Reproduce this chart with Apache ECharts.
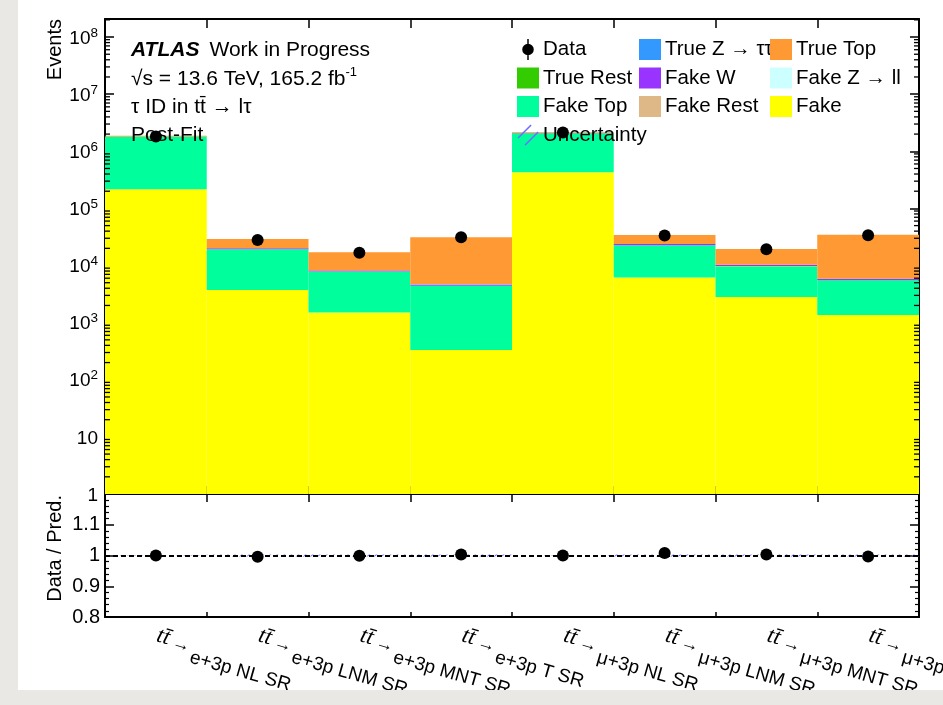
<!DOCTYPE html>
<html><head><meta charset="utf-8">
<script src="https://cdn.jsdelivr.net/npm/echarts@6/dist/echarts.min.js"></script>
<style>
html,body{margin:0;padding:0;width:943px;height:705px;background:#e9e8e5;overflow:hidden}
#c{position:absolute;left:18px;top:0;width:925px;height:690px;background:#fff}
</style></head><body><div id="c"></div>
<script>
// ---------------- data ----------------
const categories = ['e+3p NL SR','e+3p LNM SR','e+3p MNT SR','e+3p T SR','μ+3p NL SR','μ+3p LNM SR','μ+3p MNT SR','μ+3p T SR'];
const fake      = [2.17e5, 3740, 1500, 333, 4.31e5, 6150, 2820, 1360];
const fakeTop   = [1.58e6, 15500, 6300, 4050, 1.64e6, 16500, 6900, 4160];
const fakeRest  = [3000, 80, 40, 20, 5000, 100, 50, 30];
const fakeW     = [5000, 700, 350, 220, 5000, 1000, 450, 270];
const fakeZll   = [500, 20, 10, 8, 600, 25, 15, 10];
const trueRest  = [800, 60, 40, 60, 900, 70, 45, 70];
const trueZtt   = [300, 30, 20, 40, 350, 40, 25, 50];
const trueTop   = [7.3e4, 9100, 8800, 26600, 7.7e4, 10500, 9200, 28800];
const dataVals  = [1.81e6, 2.81e4, 1.68e4, 3.13e4, 2.13e6, 3.34e4, 1.93e4, 3.39e4];
const ratioVals = [1.000, 0.996, 0.999, 1.003, 1.000, 1.008, 1.003, 0.997];
const ratioUnc  = [0.0005, 0.003, 0.003, 0.003, 0.0005, 0.003, 0.003, 0.003];
const yMainMin = 1, yMainMax = 2.07e8;
const yRatioMin = 0.8, yRatioMax = 1.2, yRatioStep = 0.1;
const minorLogTicks = [];
for (let k = 0; k <= 8; k++) for (let m = 2; m <= 9; m++) { const v = m * Math.pow(10, k); if (v < yMainMax) minorLogTicks.push(v); }

// ---------------- styling ----------------
const FONT = 'Liberation Sans, Arial, Helvetica, sans-serif';
const chart = echarts.init(document.getElementById('c'));
const black = '#000';
const frameLine = { show: true, onZero: false, lineStyle: { color: black, width: 2 } };
const mainGrid = { left: 87, right: 24, top: 19, height: 475, outerBoundsMode: 'none', containLabel: false };
const ratioGrid = { left: 87, right: 24, top: 494, height: 123, outerBoundsMode: 'none', containLabel: false };

function stackBar(name, vals, color) {
  return { name, type: 'bar', xAxisIndex: 0, yAxisIndex: 0, stack: 'mc', data: vals,
    barCategoryGap: '0%', barGap: '0%', itemStyle: { color }, emphasis: { disabled: true }, silent: true, z: 2 };
}
const rectIcon = 'rect';
const dataIcon = 'path://M9.3,0 L10.7,0 L10.7,20 L9.3,20 Z M4.5,10 A5.5,5.5 0 1,1 15.5,10 A5.5,5.5 0 1,1 4.5,10 Z';
const uncIcon = 'path://M0,15 L1,16 L14,3 L13,2 Z M7,22 L8,23 L21,10 L20,9 Z';

const legendCommon = { orient: 'vertical', itemWidth: 22, itemHeight: 21, itemGap: 7.5, padding: 0,
  textStyle: { fontFamily: FONT, fontSize: 20.5, color: black, padding: [0, 0, 0, -1] }, selectedMode: false, icon: rectIcon };

function supLabel(v) {
  const e = Math.round(Math.log10(v));
  if (e === 0) return '{b|1}';
  if (e === 1) return '{b|10}';
  return '{b|10}{s|' + e + '}';
}
const supRich = { b: { fontFamily: FONT, fontSize: 19, color: black, lineHeight: 22, verticalAlign: 'bottom' },
                  s: { fontFamily: FONT, fontSize: 13.5, color: black, lineHeight: 13, verticalAlign: 'top' } };

const option = {
  animation: false,
  grid: [mainGrid, ratioGrid],
  legend: [
    Object.assign({}, legendCommon, { left: 499, top: 39, data: [
      { name: 'Data', icon: dataIcon, itemStyle: { color: black } }, 'True Rest', 'Fake Top',
      { name: 'Uncertainty', icon: uncIcon, itemStyle: { color: '#6f6fff' } }] }),
    Object.assign({}, legendCommon, { left: 621, top: 39, data: ['True Z → ττ', 'Fake W', 'Fake Rest'] }),
    Object.assign({}, legendCommon, { left: 752, top: 39, data: ['True Top', 'Fake Z → ll', 'Fake'] })
  ],
  xAxis: [
    { type: 'category', gridIndex: 0, position: 'bottom', data: categories, boundaryGap: true,
      axisLine: frameLine, axisTick: { show: true, inside: true, length: 8, lineStyle: { color: black, width: 1.5 } },
      axisLabel: { show: false }, splitLine: { show: false } },
    { type: 'category', gridIndex: 0, position: 'top', data: categories, boundaryGap: true,
      axisLine: frameLine, axisTick: { show: true, inside: true, length: 9, lineStyle: { color: black, width: 1.5 } },
      axisLabel: { show: false }, splitLine: { show: false } },
    { type: 'category', gridIndex: 1, position: 'bottom', data: categories, boundaryGap: true,
      axisLine: frameLine, axisTick: { show: true, inside: true, length: 5, lineStyle: { color: black, width: 1.5 } },
      axisLabel: { show: true, interval: 0, rotate: -16, margin: 23, hideOverlap: false,
        formatter: v => '{tt|tt\u0304}{ar|→}{r|' + v + '}',
        rich: {
          tt: { fontFamily: 'Liberation Serif, Times New Roman, serif', fontStyle: 'italic', fontSize: 23, color: black, verticalAlign: 'top', padding: [0, 1, 0, 0] },
          ar: { fontFamily: FONT, fontSize: 18, color: black, verticalAlign: 'top', padding: [5, 3, 0, 3] },
          r: { fontFamily: FONT, fontSize: 19, color: black, lineHeight: 33, verticalAlign: 'bottom' }
        } },
      splitLine: { show: false } },
    { type: 'category', gridIndex: 1, position: 'top', data: categories, boundaryGap: true,
      axisLine: frameLine, axisTick: { show: true, inside: true, length: 8, lineStyle: { color: black, width: 1.5 } },
      axisLabel: { show: false }, splitLine: { show: false } }
  ],
  yAxis: [
    { type: 'log', gridIndex: 0, position: 'left', min: yMainMin, max: yMainMax, logBase: 10,
      axisLine: frameLine, axisTick: { show: true, inside: true, length: 9, lineStyle: { color: black, width: 1.5 } },
      axisLabel: { margin: 7, showMaxLabel: false, formatter: supLabel, rich: supRich },
      splitLine: { show: false } },
    { type: 'log', gridIndex: 0, position: 'right', min: yMainMin, max: yMainMax, logBase: 10,
      axisLine: frameLine, axisTick: { show: true, inside: true, length: 9, lineStyle: { color: black, width: 1.5 } },
      axisLabel: { show: false }, splitLine: { show: false } },
    { type: 'value', gridIndex: 1, position: 'left', min: yRatioMin, max: yRatioMax, interval: yRatioStep,
      axisLine: frameLine, axisTick: { show: true, inside: true, length: 9, lineStyle: { color: black, width: 1.5 } },
      minorTick: { show: true, splitNumber: 5, length: 4, lineStyle: { color: black, width: 1.2 } },
      axisLabel: { margin: 5, showMaxLabel: false, fontFamily: FONT, fontSize: 20, color: black,
        formatter: v => String(Math.round(v * 10) / 10) },
      splitLine: { show: false } },
    { type: 'value', gridIndex: 1, position: 'right', min: yRatioMin, max: yRatioMax, interval: yRatioStep,
      axisLine: frameLine, axisTick: { show: true, inside: true, length: 9, lineStyle: { color: black, width: 1.5 } },
      minorTick: { show: true, splitNumber: 5, length: 4, lineStyle: { color: black, width: 1.2 } },
      axisLabel: { show: false }, splitLine: { show: false } }
  ],
  series: [
    stackBar('Fake', fake, '#ffff00'),
    stackBar('Fake Top', fakeTop, '#00ff9c'),
    stackBar('Fake Rest', fakeRest, '#deb887'),
    stackBar('Fake W', fakeW, '#9933ff'),
    stackBar('Fake Z → ll', fakeZll, '#ccffff'),
    stackBar('True Rest', trueRest, '#33cc00'),
    stackBar('True Z → ττ', trueZtt, '#3399ff'),
    stackBar('True Top', trueTop, '#ff9933'),
    { name: 'minorTicks', type: 'custom', xAxisIndex: 0, yAxisIndex: 0, silent: true, z: 5,
      data: minorLogTicks.map(v => [0, v]),
      renderItem: (params, api) => {
        const y = api.coord([0, api.value(1)])[1];
        const cs = params.coordSys;
        return { type: 'group', children: [
          { type: 'line', shape: { x1: cs.x, y1: y, x2: cs.x + 5, y2: y }, style: { stroke: black, lineWidth: 1.3 } },
          { type: 'line', shape: { x1: cs.x + cs.width - 5, y1: y, x2: cs.x + cs.width, y2: y }, style: { stroke: black, lineWidth: 1.3 } }
        ] };
      } },
    { name: 'Data', type: 'scatter', xAxisIndex: 0, yAxisIndex: 0, data: dataVals, symbol: 'circle', symbolSize: 12,
      itemStyle: { color: black, opacity: 1 }, z: 10, silent: true },
    { name: 'uncBase', type: 'bar', xAxisIndex: 2, yAxisIndex: 2, stack: 'u', barCategoryGap: '0%',
      data: ratioVals.map((_, i) => 1 - ratioUnc[i]), itemStyle: { color: 'rgba(0,0,0,0)' }, silent: true },
    { name: 'Uncertainty', type: 'bar', xAxisIndex: 2, yAxisIndex: 2, stack: 'u', barCategoryGap: '0%',
      data: ratioUnc.map(u => 2 * u), silent: true,
      itemStyle: { color: 'rgba(0,0,0,0)', decal: { symbol: 'rect', symbolSize: 1, color: '#6f6fff', dashArrayX: [1, 0], dashArrayY: [1, 4], rotation: -Math.PI / 4 } } },
    { name: 'Ratio', type: 'scatter', xAxisIndex: 2, yAxisIndex: 2, data: ratioVals, symbol: 'circle', symbolSize: 12,
      itemStyle: { color: black, opacity: 1 }, z: 10, silent: true,
      markLine: { silent: true, symbol: ['none', 'none'], label: { show: false },
        lineStyle: { color: black, width: 2, type: [5, 3] }, data: [{ yAxis: 1 }] } }
  ],
  graphic: [
    { type: 'text', x: 113, y: 50, z: 3, style: { text: '{a|ATLAS}{w|Work in Progress}', verticalAlign: 'middle',
        rich: { a: { fontFamily: FONT, fontWeight: 'bold', fontStyle: 'italic', fontSize: 21, fill: black, padding: [0, 10, 0, 0] },
                w: { fontFamily: FONT, fontSize: 21, fill: black } } } },
    { type: 'text', x: 113, y: 78, z: 3, style: { text: '{n|√s = 13.6 TeV, 165.2 fb}{s|-1}', verticalAlign: 'middle',
        rich: { n: { fontFamily: FONT, fontSize: 21, fill: black, lineHeight: 24, verticalAlign: 'bottom' },
                s: { fontFamily: FONT, fontSize: 13, fill: black, lineHeight: 13, verticalAlign: 'top' } } } },
    { type: 'text', x: 113, y: 107, z: 3, style: { text: 'τ ID in tt\u0304 → lτ', font: '21px ' + FONT, fill: black, verticalAlign: 'middle' } },
    { type: 'text', x: 113, y: 135, z: 3, style: { text: 'Post-Fit', font: '21px ' + FONT, fill: black, verticalAlign: 'middle' } },
    { type: 'text', x: 37, y: 19, rotation: Math.PI / 2, style: { text: 'Events', font: '20px ' + FONT, fill: black, align: 'right', verticalAlign: 'middle' } },
    { type: 'text', x: 37, y: 495, rotation: Math.PI / 2, style: { text: 'Data / Pred.', font: '20px ' + FONT, fill: black, align: 'right', verticalAlign: 'middle' } }
  ]
};
chart.setOption(option);
</script>
</body></html>
